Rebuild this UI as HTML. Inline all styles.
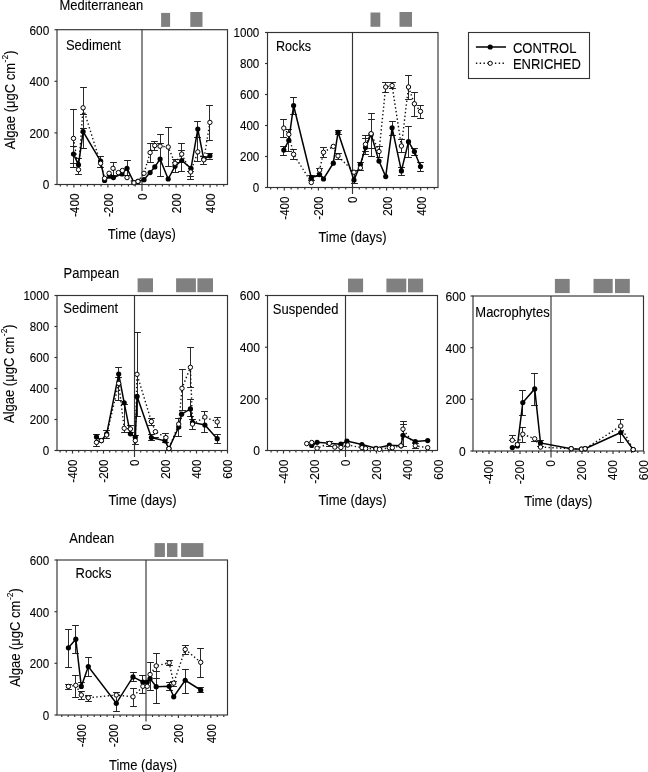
<!DOCTYPE html>
<html><head><meta charset="utf-8"><style>
html,body{margin:0;padding:0;background:#fff;}
svg{display:block;will-change:transform;font-family:"Liberation Sans",sans-serif;}
text{fill:#000;stroke:#000;stroke-width:0.1;}
</style></head><body>
<svg width="648" height="772" viewBox="0 0 648 772">
<rect x="57.0" y="29.7" width="170.5" height="154.8" fill="none" stroke="#333" stroke-width="1.15"/>
<line x1="142.0" y1="29.7" x2="142.0" y2="191.0" stroke="#333" stroke-width="1.15" />
<line x1="54.5" y1="184.5" x2="57.0" y2="184.5" stroke="#333" stroke-width="1.15" />
<text transform="translate(49.20 189.40) scale(1 1.1)" font-size="11.8" text-anchor="end" >0</text>
<line x1="54.5" y1="132.9" x2="57.0" y2="132.9" stroke="#333" stroke-width="1.15" />
<text transform="translate(49.20 137.80) scale(1 1.1)" font-size="11.8" text-anchor="end" >200</text>
<line x1="54.5" y1="81.3" x2="57.0" y2="81.3" stroke="#333" stroke-width="1.15" />
<text transform="translate(49.20 86.20) scale(1 1.1)" font-size="11.8" text-anchor="end" >400</text>
<line x1="54.5" y1="29.7" x2="57.0" y2="29.7" stroke="#333" stroke-width="1.15" />
<text transform="translate(49.20 34.60) scale(1 1.1)" font-size="11.8" text-anchor="end" >600</text>
<line x1="60.3" y1="184.5" x2="60.3" y2="186.5" stroke="#333" stroke-width="1.15" />
<line x1="67.1" y1="184.5" x2="67.1" y2="186.5" stroke="#333" stroke-width="1.15" />
<line x1="73.9" y1="184.5" x2="73.9" y2="187.5" stroke="#333" stroke-width="1.15" />
<line x1="80.7" y1="184.5" x2="80.7" y2="186.5" stroke="#333" stroke-width="1.15" />
<line x1="87.5" y1="184.5" x2="87.5" y2="186.5" stroke="#333" stroke-width="1.15" />
<line x1="94.3" y1="184.5" x2="94.3" y2="186.5" stroke="#333" stroke-width="1.15" />
<line x1="101.1" y1="184.5" x2="101.1" y2="186.5" stroke="#333" stroke-width="1.15" />
<line x1="107.9" y1="184.5" x2="107.9" y2="187.5" stroke="#333" stroke-width="1.15" />
<line x1="114.8" y1="184.5" x2="114.8" y2="186.5" stroke="#333" stroke-width="1.15" />
<line x1="121.6" y1="184.5" x2="121.6" y2="186.5" stroke="#333" stroke-width="1.15" />
<line x1="128.4" y1="184.5" x2="128.4" y2="186.5" stroke="#333" stroke-width="1.15" />
<line x1="135.2" y1="184.5" x2="135.2" y2="186.5" stroke="#333" stroke-width="1.15" />
<line x1="148.8" y1="184.5" x2="148.8" y2="186.5" stroke="#333" stroke-width="1.15" />
<line x1="155.6" y1="184.5" x2="155.6" y2="186.5" stroke="#333" stroke-width="1.15" />
<line x1="162.4" y1="184.5" x2="162.4" y2="186.5" stroke="#333" stroke-width="1.15" />
<line x1="169.2" y1="184.5" x2="169.2" y2="186.5" stroke="#333" stroke-width="1.15" />
<line x1="176.1" y1="184.5" x2="176.1" y2="187.5" stroke="#333" stroke-width="1.15" />
<line x1="182.9" y1="184.5" x2="182.9" y2="186.5" stroke="#333" stroke-width="1.15" />
<line x1="189.7" y1="184.5" x2="189.7" y2="186.5" stroke="#333" stroke-width="1.15" />
<line x1="196.5" y1="184.5" x2="196.5" y2="186.5" stroke="#333" stroke-width="1.15" />
<line x1="203.3" y1="184.5" x2="203.3" y2="186.5" stroke="#333" stroke-width="1.15" />
<line x1="210.1" y1="184.5" x2="210.1" y2="187.5" stroke="#333" stroke-width="1.15" />
<line x1="216.9" y1="184.5" x2="216.9" y2="186.5" stroke="#333" stroke-width="1.15" />
<line x1="223.7" y1="184.5" x2="223.7" y2="186.5" stroke="#333" stroke-width="1.15" />
<text transform="translate(78.78 193.50) rotate(-90) scale(1 1.1)" font-size="11.8" text-anchor="end" >-400</text>
<text transform="translate(112.84 193.50) rotate(-90) scale(1 1.1)" font-size="11.8" text-anchor="end" >-200</text>
<text transform="translate(146.90 193.50) rotate(-90) scale(1 1.1)" font-size="11.8" text-anchor="end" >0</text>
<text transform="translate(180.96 193.50) rotate(-90) scale(1 1.1)" font-size="11.8" text-anchor="end" >200</text>
<text transform="translate(215.02 193.50) rotate(-90) scale(1 1.1)" font-size="11.8" text-anchor="end" >400</text>
<text transform="translate(107.80 238.70) scale(1 1.12)" font-size="13" text-anchor="start" >Time (days)</text>
<text transform="translate(65.90 50.40) scale(1 1.12)" font-size="13" text-anchor="start" >Sediment</text>
<text transform="translate(59.40 9.60) scale(1 1.12)" font-size="13" text-anchor="start" >Mediterranean</text>
<text transform="translate(14.8 149.2) rotate(-90) scale(1 1.12)" font-size="13">Algae (μgC cm<tspan font-size="8.5" dx="0.6" dy="-6.3">-2</tspan><tspan dy="6.3">)</tspan></text>
<rect x="161.1" y="12.9" width="9.0" height="14.0" fill="#808080"/>
<rect x="190.3" y="12.0" width="12.2" height="14.9" fill="#808080"/>
<line x1="73.5" y1="109.5" x2="73.5" y2="167.5" stroke="#2a2a2a" stroke-width="1" />
<line x1="70.1" y1="109.5" x2="76.9" y2="109.5" stroke="#222" stroke-width="1" />
<line x1="70.1" y1="167.5" x2="76.9" y2="167.5" stroke="#222" stroke-width="1" />
<line x1="78.5" y1="158.5" x2="78.5" y2="174.5" stroke="#2a2a2a" stroke-width="1" />
<line x1="75.1" y1="158.5" x2="81.9" y2="158.5" stroke="#222" stroke-width="1" />
<line x1="75.1" y1="174.5" x2="81.9" y2="174.5" stroke="#222" stroke-width="1" />
<line x1="83.5" y1="87.5" x2="83.5" y2="148.5" stroke="#2a2a2a" stroke-width="1" />
<line x1="80.1" y1="87.5" x2="86.9" y2="87.5" stroke="#222" stroke-width="1" />
<line x1="80.1" y1="148.5" x2="86.9" y2="148.5" stroke="#222" stroke-width="1" />
<line x1="100.5" y1="156.5" x2="100.5" y2="167.5" stroke="#2a2a2a" stroke-width="1" />
<line x1="97.1" y1="156.5" x2="103.9" y2="156.5" stroke="#222" stroke-width="1" />
<line x1="97.1" y1="167.5" x2="103.9" y2="167.5" stroke="#222" stroke-width="1" />
<line x1="113.5" y1="162.5" x2="113.5" y2="175.5" stroke="#2a2a2a" stroke-width="1" />
<line x1="110.1" y1="162.5" x2="116.9" y2="162.5" stroke="#222" stroke-width="1" />
<line x1="110.1" y1="175.5" x2="116.9" y2="175.5" stroke="#222" stroke-width="1" />
<line x1="127.5" y1="160.5" x2="127.5" y2="175.5" stroke="#2a2a2a" stroke-width="1" />
<line x1="124.1" y1="160.5" x2="130.9" y2="160.5" stroke="#222" stroke-width="1" />
<line x1="124.1" y1="175.5" x2="130.9" y2="175.5" stroke="#222" stroke-width="1" />
<line x1="150.5" y1="143.5" x2="150.5" y2="162.5" stroke="#2a2a2a" stroke-width="1" />
<line x1="147.1" y1="143.5" x2="153.9" y2="143.5" stroke="#222" stroke-width="1" />
<line x1="147.1" y1="162.5" x2="153.9" y2="162.5" stroke="#222" stroke-width="1" />
<line x1="154.5" y1="141.5" x2="154.5" y2="150.5" stroke="#2a2a2a" stroke-width="1" />
<line x1="151.1" y1="141.5" x2="157.9" y2="141.5" stroke="#222" stroke-width="1" />
<line x1="151.1" y1="150.5" x2="157.9" y2="150.5" stroke="#222" stroke-width="1" />
<line x1="160.5" y1="134.5" x2="160.5" y2="176.5" stroke="#2a2a2a" stroke-width="1" />
<line x1="157.1" y1="134.5" x2="163.9" y2="134.5" stroke="#222" stroke-width="1" />
<line x1="157.1" y1="176.5" x2="163.9" y2="176.5" stroke="#222" stroke-width="1" />
<line x1="168.5" y1="127.5" x2="168.5" y2="166.5" stroke="#2a2a2a" stroke-width="1" />
<line x1="165.1" y1="127.5" x2="171.9" y2="127.5" stroke="#222" stroke-width="1" />
<line x1="165.1" y1="166.5" x2="171.9" y2="166.5" stroke="#222" stroke-width="1" />
<line x1="175.5" y1="159.5" x2="175.5" y2="172.5" stroke="#2a2a2a" stroke-width="1" />
<line x1="172.1" y1="159.5" x2="178.9" y2="159.5" stroke="#222" stroke-width="1" />
<line x1="172.1" y1="172.5" x2="178.9" y2="172.5" stroke="#222" stroke-width="1" />
<line x1="181.5" y1="143.5" x2="181.5" y2="171.5" stroke="#2a2a2a" stroke-width="1" />
<line x1="178.1" y1="143.5" x2="184.9" y2="143.5" stroke="#222" stroke-width="1" />
<line x1="178.1" y1="171.5" x2="184.9" y2="171.5" stroke="#222" stroke-width="1" />
<line x1="190.5" y1="171.5" x2="190.5" y2="179.5" stroke="#2a2a2a" stroke-width="1" />
<line x1="187.1" y1="171.5" x2="193.9" y2="171.5" stroke="#222" stroke-width="1" />
<line x1="187.1" y1="179.5" x2="193.9" y2="179.5" stroke="#222" stroke-width="1" />
<line x1="197.5" y1="121.5" x2="197.5" y2="161.5" stroke="#2a2a2a" stroke-width="1" />
<line x1="194.1" y1="121.5" x2="200.9" y2="121.5" stroke="#222" stroke-width="1" />
<line x1="194.1" y1="161.5" x2="200.9" y2="161.5" stroke="#222" stroke-width="1" />
<line x1="203.5" y1="156.5" x2="203.5" y2="164.5" stroke="#2a2a2a" stroke-width="1" />
<line x1="200.1" y1="156.5" x2="206.9" y2="156.5" stroke="#222" stroke-width="1" />
<line x1="200.1" y1="164.5" x2="206.9" y2="164.5" stroke="#222" stroke-width="1" />
<line x1="209.5" y1="105.5" x2="209.5" y2="140.5" stroke="#2a2a2a" stroke-width="1" />
<line x1="206.1" y1="105.5" x2="212.9" y2="105.5" stroke="#222" stroke-width="1" />
<line x1="206.1" y1="140.5" x2="212.9" y2="140.5" stroke="#222" stroke-width="1" />
<line x1="70.1" y1="146.5" x2="76.9" y2="146.5" stroke="#222" stroke-width="1" />
<line x1="70.1" y1="163.5" x2="76.9" y2="163.5" stroke="#222" stroke-width="1" />
<line x1="80.1" y1="114.5" x2="86.9" y2="114.5" stroke="#222" stroke-width="1" />
<line x1="80.1" y1="128.5" x2="86.9" y2="128.5" stroke="#222" stroke-width="1" />
<line x1="157.1" y1="143.5" x2="163.9" y2="143.5" stroke="#222" stroke-width="1" />
<line x1="172.1" y1="162.5" x2="178.9" y2="162.5" stroke="#222" stroke-width="1" />
<line x1="178.1" y1="150.5" x2="184.9" y2="150.5" stroke="#222" stroke-width="1" />
<line x1="187.1" y1="176.5" x2="193.9" y2="176.5" stroke="#222" stroke-width="1" />
<line x1="194.1" y1="137.5" x2="200.9" y2="137.5" stroke="#222" stroke-width="1" />
<line x1="206.1" y1="153.5" x2="212.9" y2="153.5" stroke="#222" stroke-width="1" />
<line x1="206.1" y1="159.5" x2="212.9" y2="159.5" stroke="#222" stroke-width="1" />
<polyline fill="none" stroke="#111" stroke-width="1.4" stroke-dasharray="1.4 2.4" points="73.5,138.4 78.5,169.7 83.1,107.8 100.6,163.3 104.6,178.3 109.1,173.3 113.0,168.3 118.4,172.6 122.4,170.5 127.0,177.6 134.0,182.8 138.0,181.4 144.0,173.3 150.1,152.6 154.8,145.5 160.1,146.2 168.2,147.0 175.0,163.3 181.7,154.1 190.7,171.9 197.8,151.9 203.8,159.8 209.9,122.4"/>
<polyline fill="none" stroke="#000" stroke-width="1.5" points="73.5,154.1 78.5,164.8 83.1,131.6 100.6,161.2 104.6,180.4 109.9,176.2 113.4,177.6 122.0,174.0 127.0,168.3 134.0,182.6 138.0,181.4 144.0,179.7 150.1,172.6 154.8,166.9 160.1,159.1 168.2,179.0 175.0,166.2 181.7,160.5 191.0,168.3 197.8,129.1 203.8,159.1 209.9,155.8"/>
<circle cx="73.5" cy="154.1" r="2.6" fill="#000"/>
<circle cx="78.5" cy="164.8" r="2.6" fill="#000"/>
<circle cx="83.1" cy="131.6" r="2.6" fill="#000"/>
<circle cx="100.6" cy="161.2" r="2.6" fill="#000"/>
<circle cx="104.6" cy="180.4" r="2.6" fill="#000"/>
<circle cx="109.9" cy="176.2" r="2.6" fill="#000"/>
<circle cx="113.4" cy="177.6" r="2.6" fill="#000"/>
<circle cx="122.0" cy="174.0" r="2.6" fill="#000"/>
<circle cx="127.0" cy="168.3" r="2.6" fill="#000"/>
<circle cx="134.0" cy="182.6" r="2.6" fill="#000"/>
<circle cx="138.0" cy="181.4" r="2.6" fill="#000"/>
<circle cx="144.0" cy="179.7" r="2.6" fill="#000"/>
<circle cx="150.1" cy="172.6" r="2.6" fill="#000"/>
<circle cx="154.8" cy="166.9" r="2.6" fill="#000"/>
<circle cx="160.1" cy="159.1" r="2.6" fill="#000"/>
<circle cx="168.2" cy="179.0" r="2.6" fill="#000"/>
<circle cx="175.0" cy="166.2" r="2.6" fill="#000"/>
<circle cx="181.7" cy="160.5" r="2.6" fill="#000"/>
<circle cx="191.0" cy="168.3" r="2.6" fill="#000"/>
<circle cx="197.8" cy="129.1" r="2.6" fill="#000"/>
<circle cx="203.8" cy="159.1" r="2.6" fill="#000"/>
<circle cx="209.9" cy="155.8" r="2.6" fill="#000"/>
<circle cx="73.5" cy="138.4" r="2.2" fill="#fff" stroke="#000" stroke-width="1"/>
<circle cx="78.5" cy="169.7" r="2.2" fill="#fff" stroke="#000" stroke-width="1"/>
<circle cx="83.1" cy="107.8" r="2.2" fill="#fff" stroke="#000" stroke-width="1"/>
<circle cx="100.6" cy="163.3" r="2.2" fill="#fff" stroke="#000" stroke-width="1"/>
<circle cx="104.6" cy="178.3" r="2.2" fill="#fff" stroke="#000" stroke-width="1"/>
<circle cx="109.1" cy="173.3" r="2.2" fill="#fff" stroke="#000" stroke-width="1"/>
<circle cx="113.0" cy="168.3" r="2.2" fill="#fff" stroke="#000" stroke-width="1"/>
<circle cx="118.4" cy="172.6" r="2.2" fill="#fff" stroke="#000" stroke-width="1"/>
<circle cx="122.4" cy="170.5" r="2.2" fill="#fff" stroke="#000" stroke-width="1"/>
<circle cx="127.0" cy="177.6" r="2.2" fill="#fff" stroke="#000" stroke-width="1"/>
<circle cx="134.0" cy="182.8" r="2.2" fill="#fff" stroke="#000" stroke-width="1"/>
<circle cx="138.0" cy="181.4" r="2.2" fill="#fff" stroke="#000" stroke-width="1"/>
<circle cx="144.0" cy="173.3" r="2.2" fill="#fff" stroke="#000" stroke-width="1"/>
<circle cx="150.1" cy="152.6" r="2.2" fill="#fff" stroke="#000" stroke-width="1"/>
<circle cx="154.8" cy="145.5" r="2.2" fill="#fff" stroke="#000" stroke-width="1"/>
<circle cx="160.1" cy="146.2" r="2.2" fill="#fff" stroke="#000" stroke-width="1"/>
<circle cx="168.2" cy="147.0" r="2.2" fill="#fff" stroke="#000" stroke-width="1"/>
<circle cx="175.0" cy="163.3" r="2.2" fill="#fff" stroke="#000" stroke-width="1"/>
<circle cx="181.7" cy="154.1" r="2.2" fill="#fff" stroke="#000" stroke-width="1"/>
<circle cx="190.7" cy="171.9" r="2.2" fill="#fff" stroke="#000" stroke-width="1"/>
<circle cx="197.8" cy="151.9" r="2.2" fill="#fff" stroke="#000" stroke-width="1"/>
<circle cx="203.8" cy="159.8" r="2.2" fill="#fff" stroke="#000" stroke-width="1"/>
<circle cx="209.9" cy="122.4" r="2.2" fill="#fff" stroke="#000" stroke-width="1"/>
<rect x="267.5" y="32.5" width="170.5" height="155.0" fill="none" stroke="#333" stroke-width="1.15"/>
<line x1="352.5" y1="32.5" x2="352.5" y2="194.0" stroke="#333" stroke-width="1.15" />
<line x1="265.0" y1="187.5" x2="267.5" y2="187.5" stroke="#333" stroke-width="1.15" />
<text transform="translate(259.30 192.40) scale(1 1.1)" font-size="11.6" text-anchor="end" >0</text>
<line x1="265.0" y1="156.5" x2="267.5" y2="156.5" stroke="#333" stroke-width="1.15" />
<text transform="translate(259.30 161.40) scale(1 1.1)" font-size="11.6" text-anchor="end" >200</text>
<line x1="265.0" y1="125.5" x2="267.5" y2="125.5" stroke="#333" stroke-width="1.15" />
<text transform="translate(259.30 130.40) scale(1 1.1)" font-size="11.6" text-anchor="end" >400</text>
<line x1="265.0" y1="94.5" x2="267.5" y2="94.5" stroke="#333" stroke-width="1.15" />
<text transform="translate(259.30 99.40) scale(1 1.1)" font-size="11.6" text-anchor="end" >600</text>
<line x1="265.0" y1="63.5" x2="267.5" y2="63.5" stroke="#333" stroke-width="1.15" />
<text transform="translate(259.30 68.40) scale(1 1.1)" font-size="11.6" text-anchor="end" >800</text>
<line x1="265.0" y1="32.5" x2="267.5" y2="32.5" stroke="#333" stroke-width="1.15" />
<text transform="translate(259.30 37.40) scale(1 1.1)" font-size="11.6" text-anchor="end" >1000</text>
<line x1="270.7" y1="187.5" x2="270.7" y2="189.5" stroke="#333" stroke-width="1.15" />
<line x1="277.5" y1="187.5" x2="277.5" y2="189.5" stroke="#333" stroke-width="1.15" />
<line x1="284.3" y1="187.5" x2="284.3" y2="190.5" stroke="#333" stroke-width="1.15" />
<line x1="291.1" y1="187.5" x2="291.1" y2="189.5" stroke="#333" stroke-width="1.15" />
<line x1="297.9" y1="187.5" x2="297.9" y2="189.5" stroke="#333" stroke-width="1.15" />
<line x1="304.8" y1="187.5" x2="304.8" y2="189.5" stroke="#333" stroke-width="1.15" />
<line x1="311.6" y1="187.5" x2="311.6" y2="189.5" stroke="#333" stroke-width="1.15" />
<line x1="318.4" y1="187.5" x2="318.4" y2="190.5" stroke="#333" stroke-width="1.15" />
<line x1="325.2" y1="187.5" x2="325.2" y2="189.5" stroke="#333" stroke-width="1.15" />
<line x1="332.0" y1="187.5" x2="332.0" y2="189.5" stroke="#333" stroke-width="1.15" />
<line x1="338.9" y1="187.5" x2="338.9" y2="189.5" stroke="#333" stroke-width="1.15" />
<line x1="345.7" y1="187.5" x2="345.7" y2="189.5" stroke="#333" stroke-width="1.15" />
<line x1="359.3" y1="187.5" x2="359.3" y2="189.5" stroke="#333" stroke-width="1.15" />
<line x1="366.1" y1="187.5" x2="366.1" y2="189.5" stroke="#333" stroke-width="1.15" />
<line x1="373.0" y1="187.5" x2="373.0" y2="189.5" stroke="#333" stroke-width="1.15" />
<line x1="379.8" y1="187.5" x2="379.8" y2="189.5" stroke="#333" stroke-width="1.15" />
<line x1="386.6" y1="187.5" x2="386.6" y2="190.5" stroke="#333" stroke-width="1.15" />
<line x1="393.4" y1="187.5" x2="393.4" y2="189.5" stroke="#333" stroke-width="1.15" />
<line x1="400.2" y1="187.5" x2="400.2" y2="189.5" stroke="#333" stroke-width="1.15" />
<line x1="407.1" y1="187.5" x2="407.1" y2="189.5" stroke="#333" stroke-width="1.15" />
<line x1="413.9" y1="187.5" x2="413.9" y2="189.5" stroke="#333" stroke-width="1.15" />
<line x1="420.7" y1="187.5" x2="420.7" y2="190.5" stroke="#333" stroke-width="1.15" />
<line x1="427.5" y1="187.5" x2="427.5" y2="189.5" stroke="#333" stroke-width="1.15" />
<line x1="434.3" y1="187.5" x2="434.3" y2="189.5" stroke="#333" stroke-width="1.15" />
<text transform="translate(289.20 196.50) rotate(-90) scale(1 1.1)" font-size="11.6" text-anchor="end" >-400</text>
<text transform="translate(323.30 196.50) rotate(-90) scale(1 1.1)" font-size="11.6" text-anchor="end" >-200</text>
<text transform="translate(357.40 196.50) rotate(-90) scale(1 1.1)" font-size="11.6" text-anchor="end" >0</text>
<text transform="translate(391.50 196.50) rotate(-90) scale(1 1.1)" font-size="11.6" text-anchor="end" >200</text>
<text transform="translate(425.60 196.50) rotate(-90) scale(1 1.1)" font-size="11.6" text-anchor="end" >400</text>
<text transform="translate(318.40 241.70) scale(1 1.12)" font-size="13" text-anchor="start" >Time (days)</text>
<text transform="translate(276.00 50.90) scale(1 1.12)" font-size="12.6" text-anchor="start" >Rocks</text>
<rect x="370.5" y="12.5" width="9.8" height="14.3" fill="#808080"/>
<rect x="399.5" y="12.0" width="12.5" height="14.8" fill="#808080"/>
<line x1="283.5" y1="119.5" x2="283.5" y2="137.5" stroke="#2a2a2a" stroke-width="1" />
<line x1="280.1" y1="119.5" x2="286.9" y2="119.5" stroke="#222" stroke-width="1" />
<line x1="280.1" y1="137.5" x2="286.9" y2="137.5" stroke="#222" stroke-width="1" />
<line x1="283.5" y1="146.5" x2="283.5" y2="155.5" stroke="#2a2a2a" stroke-width="1" />
<line x1="280.1" y1="146.5" x2="286.9" y2="146.5" stroke="#222" stroke-width="1" />
<line x1="280.1" y1="155.5" x2="286.9" y2="155.5" stroke="#222" stroke-width="1" />
<line x1="288.5" y1="129.5" x2="288.5" y2="151.5" stroke="#2a2a2a" stroke-width="1" />
<line x1="285.1" y1="129.5" x2="291.9" y2="129.5" stroke="#222" stroke-width="1" />
<line x1="285.1" y1="151.5" x2="291.9" y2="151.5" stroke="#222" stroke-width="1" />
<line x1="293.5" y1="97.5" x2="293.5" y2="114.5" stroke="#2a2a2a" stroke-width="1" />
<line x1="290.1" y1="97.5" x2="296.9" y2="97.5" stroke="#222" stroke-width="1" />
<line x1="290.1" y1="114.5" x2="296.9" y2="114.5" stroke="#222" stroke-width="1" />
<line x1="293.5" y1="149.5" x2="293.5" y2="159.5" stroke="#2a2a2a" stroke-width="1" />
<line x1="290.1" y1="149.5" x2="296.9" y2="149.5" stroke="#222" stroke-width="1" />
<line x1="290.1" y1="159.5" x2="296.9" y2="159.5" stroke="#222" stroke-width="1" />
<line x1="311.5" y1="175.5" x2="311.5" y2="180.5" stroke="#2a2a2a" stroke-width="1" />
<line x1="308.1" y1="175.5" x2="314.9" y2="175.5" stroke="#222" stroke-width="1" />
<line x1="308.1" y1="180.5" x2="314.9" y2="180.5" stroke="#222" stroke-width="1" />
<line x1="319.5" y1="168.5" x2="319.5" y2="176.5" stroke="#2a2a2a" stroke-width="1" />
<line x1="316.1" y1="168.5" x2="322.9" y2="168.5" stroke="#222" stroke-width="1" />
<line x1="316.1" y1="176.5" x2="322.9" y2="176.5" stroke="#222" stroke-width="1" />
<line x1="323.5" y1="147.5" x2="323.5" y2="157.5" stroke="#2a2a2a" stroke-width="1" />
<line x1="320.1" y1="147.5" x2="326.9" y2="147.5" stroke="#222" stroke-width="1" />
<line x1="320.1" y1="157.5" x2="326.9" y2="157.5" stroke="#222" stroke-width="1" />
<line x1="338.5" y1="130.5" x2="338.5" y2="134.5" stroke="#2a2a2a" stroke-width="1" />
<line x1="335.1" y1="130.5" x2="341.9" y2="130.5" stroke="#222" stroke-width="1" />
<line x1="335.1" y1="134.5" x2="341.9" y2="134.5" stroke="#222" stroke-width="1" />
<line x1="338.5" y1="153.5" x2="338.5" y2="159.5" stroke="#2a2a2a" stroke-width="1" />
<line x1="335.1" y1="153.5" x2="341.9" y2="153.5" stroke="#222" stroke-width="1" />
<line x1="335.1" y1="159.5" x2="341.9" y2="159.5" stroke="#222" stroke-width="1" />
<line x1="354.5" y1="170.5" x2="354.5" y2="183.5" stroke="#2a2a2a" stroke-width="1" />
<line x1="351.1" y1="170.5" x2="357.9" y2="170.5" stroke="#222" stroke-width="1" />
<line x1="351.1" y1="183.5" x2="357.9" y2="183.5" stroke="#222" stroke-width="1" />
<line x1="360.5" y1="162.5" x2="360.5" y2="170.5" stroke="#2a2a2a" stroke-width="1" />
<line x1="357.1" y1="162.5" x2="363.9" y2="162.5" stroke="#222" stroke-width="1" />
<line x1="357.1" y1="170.5" x2="363.9" y2="170.5" stroke="#222" stroke-width="1" />
<line x1="365.5" y1="135.5" x2="365.5" y2="154.5" stroke="#2a2a2a" stroke-width="1" />
<line x1="362.1" y1="135.5" x2="368.9" y2="135.5" stroke="#222" stroke-width="1" />
<line x1="362.1" y1="154.5" x2="368.9" y2="154.5" stroke="#222" stroke-width="1" />
<line x1="371.5" y1="113.5" x2="371.5" y2="156.5" stroke="#2a2a2a" stroke-width="1" />
<line x1="368.1" y1="113.5" x2="374.9" y2="113.5" stroke="#222" stroke-width="1" />
<line x1="368.1" y1="156.5" x2="374.9" y2="156.5" stroke="#222" stroke-width="1" />
<line x1="379.5" y1="146.5" x2="379.5" y2="157.5" stroke="#2a2a2a" stroke-width="1" />
<line x1="376.1" y1="146.5" x2="382.9" y2="146.5" stroke="#222" stroke-width="1" />
<line x1="376.1" y1="157.5" x2="382.9" y2="157.5" stroke="#222" stroke-width="1" />
<line x1="385.5" y1="82.5" x2="385.5" y2="92.5" stroke="#2a2a2a" stroke-width="1" />
<line x1="382.1" y1="82.5" x2="388.9" y2="82.5" stroke="#222" stroke-width="1" />
<line x1="382.1" y1="92.5" x2="388.9" y2="92.5" stroke="#222" stroke-width="1" />
<line x1="392.5" y1="82.5" x2="392.5" y2="88.5" stroke="#2a2a2a" stroke-width="1" />
<line x1="389.1" y1="82.5" x2="395.9" y2="82.5" stroke="#222" stroke-width="1" />
<line x1="389.1" y1="88.5" x2="395.9" y2="88.5" stroke="#222" stroke-width="1" />
<line x1="392.5" y1="121.5" x2="392.5" y2="135.5" stroke="#2a2a2a" stroke-width="1" />
<line x1="389.1" y1="121.5" x2="395.9" y2="121.5" stroke="#222" stroke-width="1" />
<line x1="389.1" y1="135.5" x2="395.9" y2="135.5" stroke="#222" stroke-width="1" />
<line x1="401.5" y1="167.5" x2="401.5" y2="175.5" stroke="#2a2a2a" stroke-width="1" />
<line x1="398.1" y1="167.5" x2="404.9" y2="167.5" stroke="#222" stroke-width="1" />
<line x1="398.1" y1="175.5" x2="404.9" y2="175.5" stroke="#222" stroke-width="1" />
<line x1="401.5" y1="139.5" x2="401.5" y2="152.5" stroke="#2a2a2a" stroke-width="1" />
<line x1="398.1" y1="139.5" x2="404.9" y2="139.5" stroke="#222" stroke-width="1" />
<line x1="398.1" y1="152.5" x2="404.9" y2="152.5" stroke="#222" stroke-width="1" />
<line x1="408.5" y1="75.5" x2="408.5" y2="99.5" stroke="#2a2a2a" stroke-width="1" />
<line x1="405.1" y1="75.5" x2="411.9" y2="75.5" stroke="#222" stroke-width="1" />
<line x1="405.1" y1="99.5" x2="411.9" y2="99.5" stroke="#222" stroke-width="1" />
<line x1="408.5" y1="126.5" x2="408.5" y2="157.5" stroke="#2a2a2a" stroke-width="1" />
<line x1="405.1" y1="126.5" x2="411.9" y2="126.5" stroke="#222" stroke-width="1" />
<line x1="405.1" y1="157.5" x2="411.9" y2="157.5" stroke="#222" stroke-width="1" />
<line x1="414.5" y1="92.5" x2="414.5" y2="116.5" stroke="#2a2a2a" stroke-width="1" />
<line x1="411.1" y1="92.5" x2="417.9" y2="92.5" stroke="#222" stroke-width="1" />
<line x1="411.1" y1="116.5" x2="417.9" y2="116.5" stroke="#222" stroke-width="1" />
<line x1="414.5" y1="148.5" x2="414.5" y2="155.5" stroke="#2a2a2a" stroke-width="1" />
<line x1="411.1" y1="148.5" x2="417.9" y2="148.5" stroke="#222" stroke-width="1" />
<line x1="411.1" y1="155.5" x2="417.9" y2="155.5" stroke="#222" stroke-width="1" />
<line x1="420.5" y1="105.5" x2="420.5" y2="118.5" stroke="#2a2a2a" stroke-width="1" />
<line x1="417.1" y1="105.5" x2="423.9" y2="105.5" stroke="#222" stroke-width="1" />
<line x1="417.1" y1="118.5" x2="423.9" y2="118.5" stroke="#222" stroke-width="1" />
<line x1="420.5" y1="162.5" x2="420.5" y2="171.5" stroke="#2a2a2a" stroke-width="1" />
<line x1="417.1" y1="162.5" x2="423.9" y2="162.5" stroke="#222" stroke-width="1" />
<line x1="417.1" y1="171.5" x2="423.9" y2="171.5" stroke="#222" stroke-width="1" />
<line x1="368.1" y1="119.5" x2="374.9" y2="119.5" stroke="#222" stroke-width="1" />
<line x1="368.1" y1="148.5" x2="374.9" y2="148.5" stroke="#222" stroke-width="1" />
<line x1="362.1" y1="138.5" x2="368.9" y2="138.5" stroke="#222" stroke-width="1" />
<line x1="362.1" y1="151.5" x2="368.9" y2="151.5" stroke="#222" stroke-width="1" />
<polyline fill="none" stroke="#111" stroke-width="1.4" stroke-dasharray="1.4 2.4" points="283.8,128.1 288.8,134.4 293.6,154.3 311.3,182.5 319.6,170.1 323.5,152.3 333.3,146.4 338.0,155.9 354.0,172.2 360.4,167.9 365.5,144.3 371.1,133.7 379.0,151.5 385.7,87.0 392.1,85.6 401.4,146.0 408.5,87.0 414.4,103.8 420.5,111.4"/>
<polyline fill="none" stroke="#000" stroke-width="1.5" points="283.8,150.1 288.8,140.3 293.6,105.5 311.3,177.7 319.6,174.6 323.5,179.0 333.3,163.2 338.0,132.3 354.0,180.0 360.4,164.5 365.5,147.6 371.1,134.2 379.0,161.1 385.7,176.6 392.1,127.8 401.4,170.9 408.5,141.7 414.4,151.5 420.5,166.5"/>
<circle cx="283.8" cy="150.1" r="2.6" fill="#000"/>
<circle cx="288.8" cy="140.3" r="2.6" fill="#000"/>
<circle cx="293.6" cy="105.5" r="2.6" fill="#000"/>
<circle cx="311.3" cy="177.7" r="2.6" fill="#000"/>
<circle cx="319.6" cy="174.6" r="2.6" fill="#000"/>
<circle cx="323.5" cy="179.0" r="2.6" fill="#000"/>
<circle cx="333.3" cy="163.2" r="2.6" fill="#000"/>
<circle cx="338.0" cy="132.3" r="2.6" fill="#000"/>
<circle cx="354.0" cy="180.0" r="2.6" fill="#000"/>
<circle cx="360.4" cy="164.5" r="2.6" fill="#000"/>
<circle cx="365.5" cy="147.6" r="2.6" fill="#000"/>
<circle cx="371.1" cy="134.2" r="2.6" fill="#000"/>
<circle cx="379.0" cy="161.1" r="2.6" fill="#000"/>
<circle cx="385.7" cy="176.6" r="2.6" fill="#000"/>
<circle cx="392.1" cy="127.8" r="2.6" fill="#000"/>
<circle cx="401.4" cy="170.9" r="2.6" fill="#000"/>
<circle cx="408.5" cy="141.7" r="2.6" fill="#000"/>
<circle cx="414.4" cy="151.5" r="2.6" fill="#000"/>
<circle cx="420.5" cy="166.5" r="2.6" fill="#000"/>
<circle cx="283.8" cy="128.1" r="2.2" fill="#fff" stroke="#000" stroke-width="1"/>
<circle cx="288.8" cy="134.4" r="2.2" fill="#fff" stroke="#000" stroke-width="1"/>
<circle cx="293.6" cy="154.3" r="2.2" fill="#fff" stroke="#000" stroke-width="1"/>
<circle cx="311.3" cy="182.5" r="2.2" fill="#fff" stroke="#000" stroke-width="1"/>
<circle cx="319.6" cy="170.1" r="2.2" fill="#fff" stroke="#000" stroke-width="1"/>
<circle cx="323.5" cy="152.3" r="2.2" fill="#fff" stroke="#000" stroke-width="1"/>
<circle cx="333.3" cy="146.4" r="2.2" fill="#fff" stroke="#000" stroke-width="1"/>
<circle cx="338.0" cy="155.9" r="2.2" fill="#fff" stroke="#000" stroke-width="1"/>
<circle cx="354.0" cy="172.2" r="2.2" fill="#fff" stroke="#000" stroke-width="1"/>
<circle cx="360.4" cy="167.9" r="2.2" fill="#fff" stroke="#000" stroke-width="1"/>
<circle cx="365.5" cy="144.3" r="2.2" fill="#fff" stroke="#000" stroke-width="1"/>
<circle cx="371.1" cy="133.7" r="2.2" fill="#fff" stroke="#000" stroke-width="1"/>
<circle cx="379.0" cy="151.5" r="2.2" fill="#fff" stroke="#000" stroke-width="1"/>
<circle cx="385.7" cy="87.0" r="2.2" fill="#fff" stroke="#000" stroke-width="1"/>
<circle cx="392.1" cy="85.6" r="2.2" fill="#fff" stroke="#000" stroke-width="1"/>
<circle cx="401.4" cy="146.0" r="2.2" fill="#fff" stroke="#000" stroke-width="1"/>
<circle cx="408.5" cy="87.0" r="2.2" fill="#fff" stroke="#000" stroke-width="1"/>
<circle cx="414.4" cy="103.8" r="2.2" fill="#fff" stroke="#000" stroke-width="1"/>
<circle cx="420.5" cy="111.4" r="2.2" fill="#fff" stroke="#000" stroke-width="1"/>
<rect x="57.0" y="295.5" width="170.5" height="155.0" fill="none" stroke="#333" stroke-width="1.15"/>
<line x1="134.5" y1="295.5" x2="134.5" y2="457.0" stroke="#333" stroke-width="1.15" />
<line x1="54.5" y1="450.5" x2="57.0" y2="450.5" stroke="#333" stroke-width="1.15" />
<text transform="translate(49.20 455.40) scale(1 1.1)" font-size="11.6" text-anchor="end" >0</text>
<line x1="54.5" y1="419.5" x2="57.0" y2="419.5" stroke="#333" stroke-width="1.15" />
<text transform="translate(49.20 424.40) scale(1 1.1)" font-size="11.6" text-anchor="end" >200</text>
<line x1="54.5" y1="388.5" x2="57.0" y2="388.5" stroke="#333" stroke-width="1.15" />
<text transform="translate(49.20 393.40) scale(1 1.1)" font-size="11.6" text-anchor="end" >400</text>
<line x1="54.5" y1="357.5" x2="57.0" y2="357.5" stroke="#333" stroke-width="1.15" />
<text transform="translate(49.20 362.40) scale(1 1.1)" font-size="11.6" text-anchor="end" >600</text>
<line x1="54.5" y1="326.5" x2="57.0" y2="326.5" stroke="#333" stroke-width="1.15" />
<text transform="translate(49.20 331.40) scale(1 1.1)" font-size="11.6" text-anchor="end" >800</text>
<line x1="54.5" y1="295.5" x2="57.0" y2="295.5" stroke="#333" stroke-width="1.15" />
<text transform="translate(49.20 300.40) scale(1 1.1)" font-size="11.6" text-anchor="end" >1000</text>
<line x1="60.1" y1="450.5" x2="60.1" y2="452.5" stroke="#333" stroke-width="1.15" />
<line x1="66.3" y1="450.5" x2="66.3" y2="452.5" stroke="#333" stroke-width="1.15" />
<line x1="72.5" y1="450.5" x2="72.5" y2="453.5" stroke="#333" stroke-width="1.15" />
<line x1="78.7" y1="450.5" x2="78.7" y2="452.5" stroke="#333" stroke-width="1.15" />
<line x1="84.9" y1="450.5" x2="84.9" y2="452.5" stroke="#333" stroke-width="1.15" />
<line x1="91.1" y1="450.5" x2="91.1" y2="452.5" stroke="#333" stroke-width="1.15" />
<line x1="97.3" y1="450.5" x2="97.3" y2="452.5" stroke="#333" stroke-width="1.15" />
<line x1="103.5" y1="450.5" x2="103.5" y2="453.5" stroke="#333" stroke-width="1.15" />
<line x1="109.7" y1="450.5" x2="109.7" y2="452.5" stroke="#333" stroke-width="1.15" />
<line x1="115.9" y1="450.5" x2="115.9" y2="452.5" stroke="#333" stroke-width="1.15" />
<line x1="122.1" y1="450.5" x2="122.1" y2="452.5" stroke="#333" stroke-width="1.15" />
<line x1="128.3" y1="450.5" x2="128.3" y2="452.5" stroke="#333" stroke-width="1.15" />
<line x1="140.7" y1="450.5" x2="140.7" y2="452.5" stroke="#333" stroke-width="1.15" />
<line x1="146.9" y1="450.5" x2="146.9" y2="452.5" stroke="#333" stroke-width="1.15" />
<line x1="153.1" y1="450.5" x2="153.1" y2="452.5" stroke="#333" stroke-width="1.15" />
<line x1="159.3" y1="450.5" x2="159.3" y2="452.5" stroke="#333" stroke-width="1.15" />
<line x1="165.5" y1="450.5" x2="165.5" y2="453.5" stroke="#333" stroke-width="1.15" />
<line x1="171.7" y1="450.5" x2="171.7" y2="452.5" stroke="#333" stroke-width="1.15" />
<line x1="177.9" y1="450.5" x2="177.9" y2="452.5" stroke="#333" stroke-width="1.15" />
<line x1="184.1" y1="450.5" x2="184.1" y2="452.5" stroke="#333" stroke-width="1.15" />
<line x1="190.3" y1="450.5" x2="190.3" y2="452.5" stroke="#333" stroke-width="1.15" />
<line x1="196.5" y1="450.5" x2="196.5" y2="453.5" stroke="#333" stroke-width="1.15" />
<line x1="202.7" y1="450.5" x2="202.7" y2="452.5" stroke="#333" stroke-width="1.15" />
<line x1="208.9" y1="450.5" x2="208.9" y2="452.5" stroke="#333" stroke-width="1.15" />
<line x1="215.1" y1="450.5" x2="215.1" y2="452.5" stroke="#333" stroke-width="1.15" />
<line x1="221.3" y1="450.5" x2="221.3" y2="452.5" stroke="#333" stroke-width="1.15" />
<line x1="227.5" y1="450.5" x2="227.5" y2="453.5" stroke="#333" stroke-width="1.15" />
<text transform="translate(76.95 459.50) rotate(-90) scale(1 1.1)" font-size="11.6" text-anchor="end" >-400</text>
<text transform="translate(107.95 459.50) rotate(-90) scale(1 1.1)" font-size="11.6" text-anchor="end" >-200</text>
<text transform="translate(138.95 459.50) rotate(-90) scale(1 1.1)" font-size="11.6" text-anchor="end" >0</text>
<text transform="translate(169.95 459.50) rotate(-90) scale(1 1.1)" font-size="11.6" text-anchor="end" >200</text>
<text transform="translate(200.95 459.50) rotate(-90) scale(1 1.1)" font-size="11.6" text-anchor="end" >400</text>
<text transform="translate(231.95 459.50) rotate(-90) scale(1 1.1)" font-size="11.6" text-anchor="end" >600</text>
<text transform="translate(108.40 504.70) scale(1 1.12)" font-size="13" text-anchor="start" >Time (days)</text>
<text transform="translate(63.30 312.90) scale(1 1.12)" font-size="13" text-anchor="start" >Sediment</text>
<text transform="translate(63.50 278.30) scale(1 1.12)" font-size="13" text-anchor="start" >Pampean</text>
<text transform="translate(13.8 423.0) rotate(-90) scale(1 1.12)" font-size="13">Algae (μgC cm<tspan font-size="8.5" dx="0.6" dy="-6.3">-2</tspan><tspan dy="6.3">)</tspan></text>
<rect x="137.6" y="278.3" width="15.4" height="13.9" fill="#808080"/>
<rect x="176.1" y="278.3" width="19.8" height="13.9" fill="#808080"/>
<rect x="197.4" y="278.3" width="15.6" height="13.9" fill="#808080"/>
<line x1="96.5" y1="434.5" x2="96.5" y2="446.5" stroke="#2a2a2a" stroke-width="1" />
<line x1="93.1" y1="434.5" x2="99.9" y2="434.5" stroke="#222" stroke-width="1" />
<line x1="93.1" y1="446.5" x2="99.9" y2="446.5" stroke="#222" stroke-width="1" />
<line x1="106.5" y1="430.5" x2="106.5" y2="438.5" stroke="#2a2a2a" stroke-width="1" />
<line x1="103.1" y1="430.5" x2="109.9" y2="430.5" stroke="#222" stroke-width="1" />
<line x1="103.1" y1="438.5" x2="109.9" y2="438.5" stroke="#222" stroke-width="1" />
<line x1="118.5" y1="367.5" x2="118.5" y2="400.5" stroke="#2a2a2a" stroke-width="1" />
<line x1="115.1" y1="367.5" x2="121.9" y2="367.5" stroke="#222" stroke-width="1" />
<line x1="115.1" y1="400.5" x2="121.9" y2="400.5" stroke="#222" stroke-width="1" />
<line x1="124.5" y1="404.5" x2="124.5" y2="432.5" stroke="#2a2a2a" stroke-width="1" />
<line x1="121.1" y1="404.5" x2="127.9" y2="404.5" stroke="#222" stroke-width="1" />
<line x1="121.1" y1="432.5" x2="127.9" y2="432.5" stroke="#222" stroke-width="1" />
<line x1="130.5" y1="425.5" x2="130.5" y2="432.5" stroke="#2a2a2a" stroke-width="1" />
<line x1="127.1" y1="425.5" x2="133.9" y2="425.5" stroke="#222" stroke-width="1" />
<line x1="127.1" y1="432.5" x2="133.9" y2="432.5" stroke="#222" stroke-width="1" />
<line x1="135.5" y1="435.5" x2="135.5" y2="444.5" stroke="#2a2a2a" stroke-width="1" />
<line x1="132.1" y1="435.5" x2="138.9" y2="435.5" stroke="#222" stroke-width="1" />
<line x1="132.1" y1="444.5" x2="138.9" y2="444.5" stroke="#222" stroke-width="1" />
<line x1="137.5" y1="332.5" x2="137.5" y2="416.5" stroke="#2a2a2a" stroke-width="1" />
<line x1="134.1" y1="332.5" x2="140.9" y2="332.5" stroke="#222" stroke-width="1" />
<line x1="134.1" y1="416.5" x2="140.9" y2="416.5" stroke="#222" stroke-width="1" />
<line x1="151.5" y1="418.5" x2="151.5" y2="425.5" stroke="#2a2a2a" stroke-width="1" />
<line x1="148.1" y1="418.5" x2="154.9" y2="418.5" stroke="#222" stroke-width="1" />
<line x1="148.1" y1="425.5" x2="154.9" y2="425.5" stroke="#222" stroke-width="1" />
<line x1="151.5" y1="434.5" x2="151.5" y2="440.5" stroke="#2a2a2a" stroke-width="1" />
<line x1="148.1" y1="434.5" x2="154.9" y2="434.5" stroke="#222" stroke-width="1" />
<line x1="148.1" y1="440.5" x2="154.9" y2="440.5" stroke="#222" stroke-width="1" />
<line x1="165.5" y1="433.5" x2="165.5" y2="442.5" stroke="#2a2a2a" stroke-width="1" />
<line x1="162.1" y1="433.5" x2="168.9" y2="433.5" stroke="#222" stroke-width="1" />
<line x1="162.1" y1="442.5" x2="168.9" y2="442.5" stroke="#222" stroke-width="1" />
<line x1="178.5" y1="418.5" x2="178.5" y2="436.5" stroke="#2a2a2a" stroke-width="1" />
<line x1="175.1" y1="418.5" x2="181.9" y2="418.5" stroke="#222" stroke-width="1" />
<line x1="175.1" y1="436.5" x2="181.9" y2="436.5" stroke="#222" stroke-width="1" />
<line x1="182.5" y1="369.5" x2="182.5" y2="410.5" stroke="#2a2a2a" stroke-width="1" />
<line x1="179.1" y1="369.5" x2="185.9" y2="369.5" stroke="#222" stroke-width="1" />
<line x1="179.1" y1="410.5" x2="185.9" y2="410.5" stroke="#222" stroke-width="1" />
<line x1="190.5" y1="347.5" x2="190.5" y2="387.5" stroke="#2a2a2a" stroke-width="1" />
<line x1="187.1" y1="347.5" x2="193.9" y2="347.5" stroke="#222" stroke-width="1" />
<line x1="187.1" y1="387.5" x2="193.9" y2="387.5" stroke="#222" stroke-width="1" />
<line x1="190.5" y1="399.5" x2="190.5" y2="416.5" stroke="#2a2a2a" stroke-width="1" />
<line x1="187.1" y1="399.5" x2="193.9" y2="399.5" stroke="#222" stroke-width="1" />
<line x1="187.1" y1="416.5" x2="193.9" y2="416.5" stroke="#222" stroke-width="1" />
<line x1="192.5" y1="419.5" x2="192.5" y2="429.5" stroke="#2a2a2a" stroke-width="1" />
<line x1="189.1" y1="419.5" x2="195.9" y2="419.5" stroke="#222" stroke-width="1" />
<line x1="189.1" y1="429.5" x2="195.9" y2="429.5" stroke="#222" stroke-width="1" />
<line x1="204.5" y1="411.5" x2="204.5" y2="432.5" stroke="#2a2a2a" stroke-width="1" />
<line x1="201.1" y1="411.5" x2="207.9" y2="411.5" stroke="#222" stroke-width="1" />
<line x1="201.1" y1="432.5" x2="207.9" y2="432.5" stroke="#222" stroke-width="1" />
<line x1="217.5" y1="417.5" x2="217.5" y2="427.5" stroke="#2a2a2a" stroke-width="1" />
<line x1="214.1" y1="417.5" x2="220.9" y2="417.5" stroke="#222" stroke-width="1" />
<line x1="214.1" y1="427.5" x2="220.9" y2="427.5" stroke="#222" stroke-width="1" />
<line x1="217.5" y1="434.5" x2="217.5" y2="443.5" stroke="#2a2a2a" stroke-width="1" />
<line x1="214.1" y1="434.5" x2="220.9" y2="434.5" stroke="#222" stroke-width="1" />
<line x1="214.1" y1="443.5" x2="220.9" y2="443.5" stroke="#222" stroke-width="1" />
<line x1="115.1" y1="377.5" x2="121.9" y2="377.5" stroke="#222" stroke-width="1" />
<line x1="152.1" y1="437.5" x2="158.9" y2="437.5" stroke="#222" stroke-width="1" />
<polyline fill="none" stroke="#111" stroke-width="1.4" stroke-dasharray="1.4 2.4" points="96.5,442.4 101.4,440.6 106.7,435.0 118.7,383.4 124.2,428.3 130.4,428.9 135.3,440.6 137.0,374.3 151.4,421.5 155.4,431.7 165.9,437.6 168.9,448.6 178.7,424.1 182.0,388.3 190.4,367.3 192.5,424.1 204.9,417.1 217.2,421.9"/>
<polyline fill="none" stroke="#000" stroke-width="1.5" points="96.5,436.9 101.4,440.6 106.7,433.8 118.7,374.1 124.2,402.8 130.4,433.8 135.3,437.2 137.1,396.4 151.4,437.6 165.0,440.8 168.9,448.6 178.7,427.1 181.6,414.2 190.4,408.9 192.5,422.4 204.9,425.0 217.2,438.7"/>
<circle cx="96.5" cy="436.9" r="2.6" fill="#000"/>
<circle cx="101.4" cy="440.6" r="2.6" fill="#000"/>
<circle cx="106.7" cy="433.8" r="2.6" fill="#000"/>
<circle cx="118.7" cy="374.1" r="2.6" fill="#000"/>
<circle cx="124.2" cy="402.8" r="2.6" fill="#000"/>
<circle cx="130.4" cy="433.8" r="2.6" fill="#000"/>
<circle cx="135.3" cy="437.2" r="2.6" fill="#000"/>
<circle cx="137.1" cy="396.4" r="2.6" fill="#000"/>
<circle cx="151.4" cy="437.6" r="2.6" fill="#000"/>
<circle cx="165.0" cy="440.8" r="2.6" fill="#000"/>
<circle cx="168.9" cy="448.6" r="2.6" fill="#000"/>
<circle cx="178.7" cy="427.1" r="2.6" fill="#000"/>
<circle cx="181.6" cy="414.2" r="2.6" fill="#000"/>
<circle cx="190.4" cy="408.9" r="2.6" fill="#000"/>
<circle cx="192.5" cy="422.4" r="2.6" fill="#000"/>
<circle cx="204.9" cy="425.0" r="2.6" fill="#000"/>
<circle cx="217.2" cy="438.7" r="2.6" fill="#000"/>
<circle cx="96.5" cy="442.4" r="2.2" fill="#fff" stroke="#000" stroke-width="1"/>
<circle cx="101.4" cy="440.6" r="2.2" fill="#fff" stroke="#000" stroke-width="1"/>
<circle cx="106.7" cy="435.0" r="2.2" fill="#fff" stroke="#000" stroke-width="1"/>
<circle cx="118.7" cy="383.4" r="2.2" fill="#fff" stroke="#000" stroke-width="1"/>
<circle cx="124.2" cy="428.3" r="2.2" fill="#fff" stroke="#000" stroke-width="1"/>
<circle cx="130.4" cy="428.9" r="2.2" fill="#fff" stroke="#000" stroke-width="1"/>
<circle cx="135.3" cy="440.6" r="2.2" fill="#fff" stroke="#000" stroke-width="1"/>
<circle cx="137.0" cy="374.3" r="2.2" fill="#fff" stroke="#000" stroke-width="1"/>
<circle cx="151.4" cy="421.5" r="2.2" fill="#fff" stroke="#000" stroke-width="1"/>
<circle cx="155.4" cy="431.7" r="2.2" fill="#fff" stroke="#000" stroke-width="1"/>
<circle cx="165.9" cy="437.6" r="2.2" fill="#fff" stroke="#000" stroke-width="1"/>
<circle cx="168.9" cy="448.6" r="2.2" fill="#fff" stroke="#000" stroke-width="1"/>
<circle cx="178.7" cy="424.1" r="2.2" fill="#fff" stroke="#000" stroke-width="1"/>
<circle cx="182.0" cy="388.3" r="2.2" fill="#fff" stroke="#000" stroke-width="1"/>
<circle cx="190.4" cy="367.3" r="2.2" fill="#fff" stroke="#000" stroke-width="1"/>
<circle cx="192.5" cy="424.1" r="2.2" fill="#fff" stroke="#000" stroke-width="1"/>
<circle cx="204.9" cy="417.1" r="2.2" fill="#fff" stroke="#000" stroke-width="1"/>
<circle cx="217.2" cy="421.9" r="2.2" fill="#fff" stroke="#000" stroke-width="1"/>
<rect x="267.5" y="295.5" width="170.0" height="155.0" fill="none" stroke="#333" stroke-width="1.15"/>
<line x1="345.5" y1="295.5" x2="345.5" y2="457.0" stroke="#333" stroke-width="1.15" />
<line x1="265.0" y1="450.5" x2="267.5" y2="450.5" stroke="#333" stroke-width="1.15" />
<text transform="translate(260.00 455.40) scale(1 1.1)" font-size="12.1" text-anchor="end" >0</text>
<line x1="265.0" y1="398.8" x2="267.5" y2="398.8" stroke="#333" stroke-width="1.15" />
<text transform="translate(260.00 403.73) scale(1 1.1)" font-size="12.1" text-anchor="end" >200</text>
<line x1="265.0" y1="347.2" x2="267.5" y2="347.2" stroke="#333" stroke-width="1.15" />
<text transform="translate(260.00 352.07) scale(1 1.1)" font-size="12.1" text-anchor="end" >400</text>
<line x1="265.0" y1="295.5" x2="267.5" y2="295.5" stroke="#333" stroke-width="1.15" />
<text transform="translate(260.00 300.40) scale(1 1.1)" font-size="12.1" text-anchor="end" >600</text>
<line x1="271.1" y1="450.5" x2="271.1" y2="452.5" stroke="#333" stroke-width="1.15" />
<line x1="277.3" y1="450.5" x2="277.3" y2="452.5" stroke="#333" stroke-width="1.15" />
<line x1="283.5" y1="450.5" x2="283.5" y2="453.5" stroke="#333" stroke-width="1.15" />
<line x1="289.7" y1="450.5" x2="289.7" y2="452.5" stroke="#333" stroke-width="1.15" />
<line x1="295.9" y1="450.5" x2="295.9" y2="452.5" stroke="#333" stroke-width="1.15" />
<line x1="302.1" y1="450.5" x2="302.1" y2="452.5" stroke="#333" stroke-width="1.15" />
<line x1="308.3" y1="450.5" x2="308.3" y2="452.5" stroke="#333" stroke-width="1.15" />
<line x1="314.5" y1="450.5" x2="314.5" y2="453.5" stroke="#333" stroke-width="1.15" />
<line x1="320.7" y1="450.5" x2="320.7" y2="452.5" stroke="#333" stroke-width="1.15" />
<line x1="326.9" y1="450.5" x2="326.9" y2="452.5" stroke="#333" stroke-width="1.15" />
<line x1="333.1" y1="450.5" x2="333.1" y2="452.5" stroke="#333" stroke-width="1.15" />
<line x1="339.3" y1="450.5" x2="339.3" y2="452.5" stroke="#333" stroke-width="1.15" />
<line x1="351.7" y1="450.5" x2="351.7" y2="452.5" stroke="#333" stroke-width="1.15" />
<line x1="357.9" y1="450.5" x2="357.9" y2="452.5" stroke="#333" stroke-width="1.15" />
<line x1="364.1" y1="450.5" x2="364.1" y2="452.5" stroke="#333" stroke-width="1.15" />
<line x1="370.3" y1="450.5" x2="370.3" y2="452.5" stroke="#333" stroke-width="1.15" />
<line x1="376.5" y1="450.5" x2="376.5" y2="453.5" stroke="#333" stroke-width="1.15" />
<line x1="382.7" y1="450.5" x2="382.7" y2="452.5" stroke="#333" stroke-width="1.15" />
<line x1="388.9" y1="450.5" x2="388.9" y2="452.5" stroke="#333" stroke-width="1.15" />
<line x1="395.1" y1="450.5" x2="395.1" y2="452.5" stroke="#333" stroke-width="1.15" />
<line x1="401.3" y1="450.5" x2="401.3" y2="452.5" stroke="#333" stroke-width="1.15" />
<line x1="407.5" y1="450.5" x2="407.5" y2="453.5" stroke="#333" stroke-width="1.15" />
<line x1="413.7" y1="450.5" x2="413.7" y2="452.5" stroke="#333" stroke-width="1.15" />
<line x1="419.9" y1="450.5" x2="419.9" y2="452.5" stroke="#333" stroke-width="1.15" />
<line x1="426.1" y1="450.5" x2="426.1" y2="452.5" stroke="#333" stroke-width="1.15" />
<line x1="432.3" y1="450.5" x2="432.3" y2="452.5" stroke="#333" stroke-width="1.15" />
<text transform="translate(287.75 459.50) rotate(-90) scale(1 1.1)" font-size="12.1" text-anchor="end" >-400</text>
<text transform="translate(318.75 459.50) rotate(-90) scale(1 1.1)" font-size="12.1" text-anchor="end" >-200</text>
<text transform="translate(349.75 459.50) rotate(-90) scale(1 1.1)" font-size="12.1" text-anchor="end" >0</text>
<text transform="translate(380.75 459.50) rotate(-90) scale(1 1.1)" font-size="12.1" text-anchor="end" >200</text>
<text transform="translate(411.75 459.50) rotate(-90) scale(1 1.1)" font-size="12.1" text-anchor="end" >400</text>
<text transform="translate(442.75 459.50) rotate(-90) scale(1 1.1)" font-size="12.1" text-anchor="end" >600</text>
<text transform="translate(318.40 504.70) scale(1 1.12)" font-size="13" text-anchor="start" >Time (days)</text>
<text transform="translate(272.80 314.40) scale(1 1.12)" font-size="13" text-anchor="start" >Suspended</text>
<rect x="348.0" y="278.6" width="15.1" height="13.7" fill="#808080"/>
<rect x="386.4" y="278.6" width="19.9" height="13.7" fill="#808080"/>
<rect x="408.0" y="278.6" width="15.1" height="13.7" fill="#808080"/>
<line x1="403.5" y1="421.5" x2="403.5" y2="446.5" stroke="#2a2a2a" stroke-width="1" />
<line x1="400.1" y1="421.5" x2="406.9" y2="421.5" stroke="#222" stroke-width="1" />
<line x1="400.1" y1="446.5" x2="406.9" y2="446.5" stroke="#222" stroke-width="1" />
<line x1="329.5" y1="441.5" x2="329.5" y2="446.5" stroke="#2a2a2a" stroke-width="1" />
<line x1="326.1" y1="441.5" x2="332.9" y2="441.5" stroke="#222" stroke-width="1" />
<line x1="326.1" y1="446.5" x2="332.9" y2="446.5" stroke="#222" stroke-width="1" />
<line x1="415.5" y1="443.5" x2="415.5" y2="448.5" stroke="#2a2a2a" stroke-width="1" />
<line x1="412.1" y1="443.5" x2="418.9" y2="443.5" stroke="#222" stroke-width="1" />
<line x1="412.1" y1="448.5" x2="418.9" y2="448.5" stroke="#222" stroke-width="1" />
<line x1="400.1" y1="424.5" x2="406.9" y2="424.5" stroke="#222" stroke-width="1" />
<polyline fill="none" stroke="#111" stroke-width="1.4" stroke-dasharray="1.4 2.4" points="306.7,443.6 311.7,442.5 317.1,448.2 329.4,443.4 334.8,447.1 340.9,447.5 347.7,445.0 362.0,447.7 365.6,448.5 376.0,448.9 379.5,449.3 389.4,447.7 392.3,447.7 401.0,445.8 403.0,429.1 415.3,445.8 427.7,447.7"/>
<polyline fill="none" stroke="#000" stroke-width="1.5" points="311.7,445.5 317.1,442.3 340.9,444.2 346.9,441.0 361.9,444.6 376.0,448.3 389.4,445.2 401.0,445.8 403.0,435.3 415.3,441.5 427.7,440.6"/>
<circle cx="311.7" cy="445.5" r="2.6" fill="#000"/>
<circle cx="317.1" cy="442.3" r="2.6" fill="#000"/>
<circle cx="340.9" cy="444.2" r="2.6" fill="#000"/>
<circle cx="346.9" cy="441.0" r="2.6" fill="#000"/>
<circle cx="361.9" cy="444.6" r="2.6" fill="#000"/>
<circle cx="376.0" cy="448.3" r="2.6" fill="#000"/>
<circle cx="389.4" cy="445.2" r="2.6" fill="#000"/>
<circle cx="401.0" cy="445.8" r="2.6" fill="#000"/>
<circle cx="403.0" cy="435.3" r="2.6" fill="#000"/>
<circle cx="415.3" cy="441.5" r="2.6" fill="#000"/>
<circle cx="427.7" cy="440.6" r="2.6" fill="#000"/>
<circle cx="306.7" cy="443.6" r="2.2" fill="#fff" stroke="#000" stroke-width="1"/>
<circle cx="311.7" cy="442.5" r="2.2" fill="#fff" stroke="#000" stroke-width="1"/>
<circle cx="317.1" cy="448.2" r="2.2" fill="#fff" stroke="#000" stroke-width="1"/>
<circle cx="329.4" cy="443.4" r="2.2" fill="#fff" stroke="#000" stroke-width="1"/>
<circle cx="334.8" cy="447.1" r="2.2" fill="#fff" stroke="#000" stroke-width="1"/>
<circle cx="340.9" cy="447.5" r="2.2" fill="#fff" stroke="#000" stroke-width="1"/>
<circle cx="347.7" cy="445.0" r="2.2" fill="#fff" stroke="#000" stroke-width="1"/>
<circle cx="362.0" cy="447.7" r="2.2" fill="#fff" stroke="#000" stroke-width="1"/>
<circle cx="365.6" cy="448.5" r="2.2" fill="#fff" stroke="#000" stroke-width="1"/>
<circle cx="376.0" cy="448.9" r="2.2" fill="#fff" stroke="#000" stroke-width="1"/>
<circle cx="379.5" cy="449.3" r="2.2" fill="#fff" stroke="#000" stroke-width="1"/>
<circle cx="389.4" cy="447.7" r="2.2" fill="#fff" stroke="#000" stroke-width="1"/>
<circle cx="392.3" cy="447.7" r="2.2" fill="#fff" stroke="#000" stroke-width="1"/>
<circle cx="401.0" cy="445.8" r="2.2" fill="#fff" stroke="#000" stroke-width="1"/>
<circle cx="403.0" cy="429.1" r="2.2" fill="#fff" stroke="#000" stroke-width="1"/>
<circle cx="415.3" cy="445.8" r="2.2" fill="#fff" stroke="#000" stroke-width="1"/>
<circle cx="427.7" cy="447.7" r="2.2" fill="#fff" stroke="#000" stroke-width="1"/>
<rect x="473.0" y="296.0" width="170.5" height="155.0" fill="none" stroke="#333" stroke-width="1.15"/>
<line x1="551.0" y1="296.0" x2="551.0" y2="457.5" stroke="#333" stroke-width="1.15" />
<line x1="470.5" y1="451.0" x2="473.0" y2="451.0" stroke="#333" stroke-width="1.15" />
<text transform="translate(465.70 455.90) scale(1 1.1)" font-size="12.1" text-anchor="end" >0</text>
<line x1="470.5" y1="399.3" x2="473.0" y2="399.3" stroke="#333" stroke-width="1.15" />
<text transform="translate(465.70 404.23) scale(1 1.1)" font-size="12.1" text-anchor="end" >200</text>
<line x1="470.5" y1="347.7" x2="473.0" y2="347.7" stroke="#333" stroke-width="1.15" />
<text transform="translate(465.70 352.57) scale(1 1.1)" font-size="12.1" text-anchor="end" >400</text>
<line x1="470.5" y1="296.0" x2="473.0" y2="296.0" stroke="#333" stroke-width="1.15" />
<text transform="translate(465.70 300.90) scale(1 1.1)" font-size="12.1" text-anchor="end" >600</text>
<line x1="476.6" y1="451.0" x2="476.6" y2="453.0" stroke="#333" stroke-width="1.15" />
<line x1="482.8" y1="451.0" x2="482.8" y2="453.0" stroke="#333" stroke-width="1.15" />
<line x1="489.0" y1="451.0" x2="489.0" y2="454.0" stroke="#333" stroke-width="1.15" />
<line x1="495.2" y1="451.0" x2="495.2" y2="453.0" stroke="#333" stroke-width="1.15" />
<line x1="501.4" y1="451.0" x2="501.4" y2="453.0" stroke="#333" stroke-width="1.15" />
<line x1="507.6" y1="451.0" x2="507.6" y2="453.0" stroke="#333" stroke-width="1.15" />
<line x1="513.8" y1="451.0" x2="513.8" y2="453.0" stroke="#333" stroke-width="1.15" />
<line x1="520.0" y1="451.0" x2="520.0" y2="454.0" stroke="#333" stroke-width="1.15" />
<line x1="526.2" y1="451.0" x2="526.2" y2="453.0" stroke="#333" stroke-width="1.15" />
<line x1="532.4" y1="451.0" x2="532.4" y2="453.0" stroke="#333" stroke-width="1.15" />
<line x1="538.6" y1="451.0" x2="538.6" y2="453.0" stroke="#333" stroke-width="1.15" />
<line x1="544.8" y1="451.0" x2="544.8" y2="453.0" stroke="#333" stroke-width="1.15" />
<line x1="557.2" y1="451.0" x2="557.2" y2="453.0" stroke="#333" stroke-width="1.15" />
<line x1="563.4" y1="451.0" x2="563.4" y2="453.0" stroke="#333" stroke-width="1.15" />
<line x1="569.6" y1="451.0" x2="569.6" y2="453.0" stroke="#333" stroke-width="1.15" />
<line x1="575.8" y1="451.0" x2="575.8" y2="453.0" stroke="#333" stroke-width="1.15" />
<line x1="582.0" y1="451.0" x2="582.0" y2="454.0" stroke="#333" stroke-width="1.15" />
<line x1="588.2" y1="451.0" x2="588.2" y2="453.0" stroke="#333" stroke-width="1.15" />
<line x1="594.4" y1="451.0" x2="594.4" y2="453.0" stroke="#333" stroke-width="1.15" />
<line x1="600.6" y1="451.0" x2="600.6" y2="453.0" stroke="#333" stroke-width="1.15" />
<line x1="606.8" y1="451.0" x2="606.8" y2="453.0" stroke="#333" stroke-width="1.15" />
<line x1="613.0" y1="451.0" x2="613.0" y2="454.0" stroke="#333" stroke-width="1.15" />
<line x1="619.2" y1="451.0" x2="619.2" y2="453.0" stroke="#333" stroke-width="1.15" />
<line x1="625.4" y1="451.0" x2="625.4" y2="453.0" stroke="#333" stroke-width="1.15" />
<line x1="631.6" y1="451.0" x2="631.6" y2="453.0" stroke="#333" stroke-width="1.15" />
<line x1="637.8" y1="451.0" x2="637.8" y2="453.0" stroke="#333" stroke-width="1.15" />
<line x1="644.0" y1="451.0" x2="644.0" y2="454.0" stroke="#333" stroke-width="1.15" />
<text transform="translate(493.00 460.00) rotate(-90) scale(1 1.1)" font-size="12.1" text-anchor="end" >-400</text>
<text transform="translate(524.00 460.00) rotate(-90) scale(1 1.1)" font-size="12.1" text-anchor="end" >-200</text>
<text transform="translate(555.00 460.00) rotate(-90) scale(1 1.1)" font-size="12.1" text-anchor="end" >0</text>
<text transform="translate(586.00 460.00) rotate(-90) scale(1 1.1)" font-size="12.1" text-anchor="end" >200</text>
<text transform="translate(617.00 460.00) rotate(-90) scale(1 1.1)" font-size="12.1" text-anchor="end" >400</text>
<text transform="translate(648.00 460.00) rotate(-90) scale(1 1.1)" font-size="12.1" text-anchor="end" >600</text>
<text transform="translate(524.20 506.00) scale(1 1.12)" font-size="13" text-anchor="start" >Time (days)</text>
<text transform="translate(475.30 316.70) scale(1 1.12)" font-size="13" text-anchor="start" >Macrophytes</text>
<rect x="554.9" y="278.9" width="14.8" height="14.2" fill="#808080"/>
<rect x="593.5" y="278.9" width="19.2" height="14.2" fill="#808080"/>
<rect x="615.0" y="278.9" width="14.8" height="14.2" fill="#808080"/>
<line x1="512.5" y1="435.5" x2="512.5" y2="440.5" stroke="#2a2a2a" stroke-width="1" />
<line x1="509.1" y1="435.5" x2="515.9" y2="435.5" stroke="#222" stroke-width="1" />
<line x1="509.1" y1="440.5" x2="515.9" y2="440.5" stroke="#222" stroke-width="1" />
<line x1="522.5" y1="390.5" x2="522.5" y2="415.5" stroke="#2a2a2a" stroke-width="1" />
<line x1="519.1" y1="390.5" x2="525.9" y2="390.5" stroke="#222" stroke-width="1" />
<line x1="519.1" y1="415.5" x2="525.9" y2="415.5" stroke="#222" stroke-width="1" />
<line x1="522.5" y1="427.5" x2="522.5" y2="442.5" stroke="#2a2a2a" stroke-width="1" />
<line x1="519.1" y1="427.5" x2="525.9" y2="427.5" stroke="#222" stroke-width="1" />
<line x1="519.1" y1="442.5" x2="525.9" y2="442.5" stroke="#222" stroke-width="1" />
<line x1="534.5" y1="373.5" x2="534.5" y2="405.5" stroke="#2a2a2a" stroke-width="1" />
<line x1="531.1" y1="373.5" x2="537.9" y2="373.5" stroke="#222" stroke-width="1" />
<line x1="531.1" y1="405.5" x2="537.9" y2="405.5" stroke="#222" stroke-width="1" />
<line x1="540.5" y1="440.5" x2="540.5" y2="446.5" stroke="#2a2a2a" stroke-width="1" />
<line x1="537.1" y1="440.5" x2="543.9" y2="440.5" stroke="#222" stroke-width="1" />
<line x1="537.1" y1="446.5" x2="543.9" y2="446.5" stroke="#222" stroke-width="1" />
<line x1="620.5" y1="419.5" x2="620.5" y2="442.5" stroke="#2a2a2a" stroke-width="1" />
<line x1="617.1" y1="419.5" x2="623.9" y2="419.5" stroke="#222" stroke-width="1" />
<line x1="617.1" y1="442.5" x2="623.9" y2="442.5" stroke="#222" stroke-width="1" />
<line x1="531.1" y1="441.5" x2="537.9" y2="441.5" stroke="#222" stroke-width="1" />
<polyline fill="none" stroke="#111" stroke-width="1.4" stroke-dasharray="1.4 2.4" points="512.3,440.2 517.4,444.6 522.8,434.2 534.7,438.8 540.5,447.1 571.2,448.7 581.5,449.2 585.1,448.7 620.8,426.0 633.2,449.6"/>
<polyline fill="none" stroke="#000" stroke-width="1.5" points="512.3,447.6 517.4,446.0 522.8,402.5 534.7,388.9 540.5,442.9 571.2,448.7 581.5,449.2 585.1,448.7 620.8,432.5 633.2,449.6"/>
<circle cx="512.3" cy="447.6" r="2.6" fill="#000"/>
<circle cx="517.4" cy="446.0" r="2.6" fill="#000"/>
<circle cx="522.8" cy="402.5" r="2.6" fill="#000"/>
<circle cx="534.7" cy="388.9" r="2.6" fill="#000"/>
<circle cx="540.5" cy="442.9" r="2.6" fill="#000"/>
<circle cx="571.2" cy="448.7" r="2.6" fill="#000"/>
<circle cx="581.5" cy="449.2" r="2.6" fill="#000"/>
<circle cx="585.1" cy="448.7" r="2.6" fill="#000"/>
<circle cx="620.8" cy="432.5" r="2.6" fill="#000"/>
<circle cx="633.2" cy="449.6" r="2.6" fill="#000"/>
<circle cx="512.3" cy="440.2" r="2.2" fill="#fff" stroke="#000" stroke-width="1"/>
<circle cx="517.4" cy="444.6" r="2.2" fill="#fff" stroke="#000" stroke-width="1"/>
<circle cx="522.8" cy="434.2" r="2.2" fill="#fff" stroke="#000" stroke-width="1"/>
<circle cx="534.7" cy="438.8" r="2.2" fill="#fff" stroke="#000" stroke-width="1"/>
<circle cx="540.5" cy="447.1" r="2.2" fill="#fff" stroke="#000" stroke-width="1"/>
<circle cx="571.2" cy="448.7" r="2.2" fill="#fff" stroke="#000" stroke-width="1"/>
<circle cx="581.5" cy="449.2" r="2.2" fill="#fff" stroke="#000" stroke-width="1"/>
<circle cx="585.1" cy="448.7" r="2.2" fill="#fff" stroke="#000" stroke-width="1"/>
<circle cx="620.8" cy="426.0" r="2.2" fill="#fff" stroke="#000" stroke-width="1"/>
<circle cx="633.2" cy="449.6" r="2.2" fill="#fff" stroke="#000" stroke-width="1"/>
<rect x="57.0" y="560.0" width="170.5" height="155.0" fill="none" stroke="#333" stroke-width="1.15"/>
<line x1="146.0" y1="560.0" x2="146.0" y2="721.5" stroke="#333" stroke-width="1.15" />
<line x1="54.5" y1="715.0" x2="57.0" y2="715.0" stroke="#333" stroke-width="1.15" />
<text transform="translate(49.20 719.90) scale(1 1.1)" font-size="11.6" text-anchor="end" >0</text>
<line x1="54.5" y1="663.3" x2="57.0" y2="663.3" stroke="#333" stroke-width="1.15" />
<text transform="translate(49.20 668.23) scale(1 1.1)" font-size="11.6" text-anchor="end" >200</text>
<line x1="54.5" y1="611.7" x2="57.0" y2="611.7" stroke="#333" stroke-width="1.15" />
<text transform="translate(49.20 616.57) scale(1 1.1)" font-size="11.6" text-anchor="end" >400</text>
<line x1="54.5" y1="560.0" x2="57.0" y2="560.0" stroke="#333" stroke-width="1.15" />
<text transform="translate(49.20 564.90) scale(1 1.1)" font-size="11.6" text-anchor="end" >600</text>
<line x1="61.8" y1="715.0" x2="61.8" y2="717.0" stroke="#333" stroke-width="1.15" />
<line x1="68.2" y1="715.0" x2="68.2" y2="717.0" stroke="#333" stroke-width="1.15" />
<line x1="74.7" y1="715.0" x2="74.7" y2="717.0" stroke="#333" stroke-width="1.15" />
<line x1="81.2" y1="715.0" x2="81.2" y2="718.0" stroke="#333" stroke-width="1.15" />
<line x1="87.7" y1="715.0" x2="87.7" y2="717.0" stroke="#333" stroke-width="1.15" />
<line x1="94.2" y1="715.0" x2="94.2" y2="717.0" stroke="#333" stroke-width="1.15" />
<line x1="100.6" y1="715.0" x2="100.6" y2="717.0" stroke="#333" stroke-width="1.15" />
<line x1="107.1" y1="715.0" x2="107.1" y2="717.0" stroke="#333" stroke-width="1.15" />
<line x1="113.6" y1="715.0" x2="113.6" y2="718.0" stroke="#333" stroke-width="1.15" />
<line x1="120.1" y1="715.0" x2="120.1" y2="717.0" stroke="#333" stroke-width="1.15" />
<line x1="126.6" y1="715.0" x2="126.6" y2="717.0" stroke="#333" stroke-width="1.15" />
<line x1="133.0" y1="715.0" x2="133.0" y2="717.0" stroke="#333" stroke-width="1.15" />
<line x1="139.5" y1="715.0" x2="139.5" y2="717.0" stroke="#333" stroke-width="1.15" />
<line x1="152.5" y1="715.0" x2="152.5" y2="717.0" stroke="#333" stroke-width="1.15" />
<line x1="159.0" y1="715.0" x2="159.0" y2="717.0" stroke="#333" stroke-width="1.15" />
<line x1="165.4" y1="715.0" x2="165.4" y2="717.0" stroke="#333" stroke-width="1.15" />
<line x1="171.9" y1="715.0" x2="171.9" y2="717.0" stroke="#333" stroke-width="1.15" />
<line x1="178.4" y1="715.0" x2="178.4" y2="718.0" stroke="#333" stroke-width="1.15" />
<line x1="184.9" y1="715.0" x2="184.9" y2="717.0" stroke="#333" stroke-width="1.15" />
<line x1="191.4" y1="715.0" x2="191.4" y2="717.0" stroke="#333" stroke-width="1.15" />
<line x1="197.8" y1="715.0" x2="197.8" y2="717.0" stroke="#333" stroke-width="1.15" />
<line x1="204.3" y1="715.0" x2="204.3" y2="717.0" stroke="#333" stroke-width="1.15" />
<line x1="210.8" y1="715.0" x2="210.8" y2="718.0" stroke="#333" stroke-width="1.15" />
<line x1="217.3" y1="715.0" x2="217.3" y2="717.0" stroke="#333" stroke-width="1.15" />
<line x1="223.8" y1="715.0" x2="223.8" y2="717.0" stroke="#333" stroke-width="1.15" />
<text transform="translate(86.00 724.00) rotate(-90) scale(1 1.1)" font-size="11.6" text-anchor="end" >-400</text>
<text transform="translate(118.40 724.00) rotate(-90) scale(1 1.1)" font-size="11.6" text-anchor="end" >-200</text>
<text transform="translate(150.80 724.00) rotate(-90) scale(1 1.1)" font-size="11.6" text-anchor="end" >0</text>
<text transform="translate(183.20 724.00) rotate(-90) scale(1 1.1)" font-size="11.6" text-anchor="end" >200</text>
<text transform="translate(215.60 724.00) rotate(-90) scale(1 1.1)" font-size="11.6" text-anchor="end" >400</text>
<text transform="translate(109.00 770.20) scale(1 1.12)" font-size="13" text-anchor="start" >Time (days)</text>
<text transform="translate(75.50 577.90) scale(1 1.12)" font-size="13" text-anchor="start" >Rocks</text>
<text transform="translate(69.30 543.20) scale(1 1.12)" font-size="13" text-anchor="start" >Andean</text>
<text transform="translate(20.0 686.8) rotate(-90) scale(1 1.12)" font-size="13">Algae (μgC cm<tspan font-size="8.5" dx="0.6" dy="-6.3">-2</tspan><tspan dy="6.3">)</tspan></text>
<rect x="154.5" y="543.1" width="10.4" height="13.9" fill="#808080"/>
<rect x="167.0" y="543.1" width="10.4" height="13.9" fill="#808080"/>
<rect x="181.1" y="543.1" width="22.3" height="13.9" fill="#808080"/>
<line x1="68.5" y1="629.5" x2="68.5" y2="667.5" stroke="#2a2a2a" stroke-width="1" />
<line x1="65.1" y1="629.5" x2="71.9" y2="629.5" stroke="#222" stroke-width="1" />
<line x1="65.1" y1="667.5" x2="71.9" y2="667.5" stroke="#222" stroke-width="1" />
<line x1="68.5" y1="684.5" x2="68.5" y2="689.5" stroke="#2a2a2a" stroke-width="1" />
<line x1="65.1" y1="684.5" x2="71.9" y2="684.5" stroke="#222" stroke-width="1" />
<line x1="65.1" y1="689.5" x2="71.9" y2="689.5" stroke="#222" stroke-width="1" />
<line x1="75.5" y1="625.5" x2="75.5" y2="653.5" stroke="#2a2a2a" stroke-width="1" />
<line x1="72.1" y1="625.5" x2="78.9" y2="625.5" stroke="#222" stroke-width="1" />
<line x1="72.1" y1="653.5" x2="78.9" y2="653.5" stroke="#222" stroke-width="1" />
<line x1="75.5" y1="675.5" x2="75.5" y2="697.5" stroke="#2a2a2a" stroke-width="1" />
<line x1="72.1" y1="675.5" x2="78.9" y2="675.5" stroke="#222" stroke-width="1" />
<line x1="72.1" y1="697.5" x2="78.9" y2="697.5" stroke="#222" stroke-width="1" />
<line x1="81.5" y1="691.5" x2="81.5" y2="699.5" stroke="#2a2a2a" stroke-width="1" />
<line x1="78.1" y1="691.5" x2="84.9" y2="691.5" stroke="#222" stroke-width="1" />
<line x1="78.1" y1="699.5" x2="84.9" y2="699.5" stroke="#222" stroke-width="1" />
<line x1="88.5" y1="657.5" x2="88.5" y2="676.5" stroke="#2a2a2a" stroke-width="1" />
<line x1="85.1" y1="657.5" x2="91.9" y2="657.5" stroke="#222" stroke-width="1" />
<line x1="85.1" y1="676.5" x2="91.9" y2="676.5" stroke="#222" stroke-width="1" />
<line x1="88.5" y1="695.5" x2="88.5" y2="701.5" stroke="#2a2a2a" stroke-width="1" />
<line x1="85.1" y1="695.5" x2="91.9" y2="695.5" stroke="#222" stroke-width="1" />
<line x1="85.1" y1="701.5" x2="91.9" y2="701.5" stroke="#222" stroke-width="1" />
<line x1="116.5" y1="692.5" x2="116.5" y2="711.5" stroke="#2a2a2a" stroke-width="1" />
<line x1="113.1" y1="692.5" x2="119.9" y2="692.5" stroke="#222" stroke-width="1" />
<line x1="113.1" y1="711.5" x2="119.9" y2="711.5" stroke="#222" stroke-width="1" />
<line x1="133.5" y1="672.5" x2="133.5" y2="681.5" stroke="#2a2a2a" stroke-width="1" />
<line x1="130.1" y1="672.5" x2="136.9" y2="672.5" stroke="#222" stroke-width="1" />
<line x1="130.1" y1="681.5" x2="136.9" y2="681.5" stroke="#222" stroke-width="1" />
<line x1="133.5" y1="688.5" x2="133.5" y2="706.5" stroke="#2a2a2a" stroke-width="1" />
<line x1="130.1" y1="688.5" x2="136.9" y2="688.5" stroke="#222" stroke-width="1" />
<line x1="130.1" y1="706.5" x2="136.9" y2="706.5" stroke="#222" stroke-width="1" />
<line x1="142.5" y1="675.5" x2="142.5" y2="693.5" stroke="#2a2a2a" stroke-width="1" />
<line x1="139.1" y1="675.5" x2="145.9" y2="675.5" stroke="#222" stroke-width="1" />
<line x1="139.1" y1="693.5" x2="145.9" y2="693.5" stroke="#222" stroke-width="1" />
<line x1="150.5" y1="662.5" x2="150.5" y2="690.5" stroke="#2a2a2a" stroke-width="1" />
<line x1="147.1" y1="662.5" x2="153.9" y2="662.5" stroke="#222" stroke-width="1" />
<line x1="147.1" y1="690.5" x2="153.9" y2="690.5" stroke="#222" stroke-width="1" />
<line x1="156.5" y1="653.5" x2="156.5" y2="703.5" stroke="#2a2a2a" stroke-width="1" />
<line x1="153.1" y1="653.5" x2="159.9" y2="653.5" stroke="#222" stroke-width="1" />
<line x1="153.1" y1="703.5" x2="159.9" y2="703.5" stroke="#222" stroke-width="1" />
<line x1="169.5" y1="660.5" x2="169.5" y2="665.5" stroke="#2a2a2a" stroke-width="1" />
<line x1="166.1" y1="660.5" x2="172.9" y2="660.5" stroke="#222" stroke-width="1" />
<line x1="166.1" y1="665.5" x2="172.9" y2="665.5" stroke="#222" stroke-width="1" />
<line x1="169.5" y1="682.5" x2="169.5" y2="690.5" stroke="#2a2a2a" stroke-width="1" />
<line x1="166.1" y1="682.5" x2="172.9" y2="682.5" stroke="#222" stroke-width="1" />
<line x1="166.1" y1="690.5" x2="172.9" y2="690.5" stroke="#222" stroke-width="1" />
<line x1="173.5" y1="681.5" x2="173.5" y2="686.5" stroke="#2a2a2a" stroke-width="1" />
<line x1="170.1" y1="681.5" x2="176.9" y2="681.5" stroke="#222" stroke-width="1" />
<line x1="170.1" y1="686.5" x2="176.9" y2="686.5" stroke="#222" stroke-width="1" />
<line x1="185.5" y1="669.5" x2="185.5" y2="693.5" stroke="#2a2a2a" stroke-width="1" />
<line x1="182.1" y1="669.5" x2="188.9" y2="669.5" stroke="#222" stroke-width="1" />
<line x1="182.1" y1="693.5" x2="188.9" y2="693.5" stroke="#222" stroke-width="1" />
<line x1="185.5" y1="645.5" x2="185.5" y2="654.5" stroke="#2a2a2a" stroke-width="1" />
<line x1="182.1" y1="645.5" x2="188.9" y2="645.5" stroke="#222" stroke-width="1" />
<line x1="182.1" y1="654.5" x2="188.9" y2="654.5" stroke="#222" stroke-width="1" />
<line x1="200.5" y1="648.5" x2="200.5" y2="677.5" stroke="#2a2a2a" stroke-width="1" />
<line x1="197.1" y1="648.5" x2="203.9" y2="648.5" stroke="#222" stroke-width="1" />
<line x1="197.1" y1="677.5" x2="203.9" y2="677.5" stroke="#222" stroke-width="1" />
<line x1="200.5" y1="687.5" x2="200.5" y2="692.5" stroke="#2a2a2a" stroke-width="1" />
<line x1="197.1" y1="687.5" x2="203.9" y2="687.5" stroke="#222" stroke-width="1" />
<line x1="197.1" y1="692.5" x2="203.9" y2="692.5" stroke="#222" stroke-width="1" />
<line x1="78.1" y1="682.5" x2="84.9" y2="682.5" stroke="#222" stroke-width="1" />
<line x1="153.1" y1="671.5" x2="159.9" y2="671.5" stroke="#222" stroke-width="1" />
<line x1="153.1" y1="678.5" x2="159.9" y2="678.5" stroke="#222" stroke-width="1" />
<polyline fill="none" stroke="#111" stroke-width="1.4" stroke-dasharray="1.4 2.4" points="68.4,686.4 75.8,685.3 81.3,695.0 88.3,697.8 116.3,695.0 133.0,696.8 142.9,686.3 147.2,686.3 150.1,674.5 156.2,665.9 169.2,662.8 173.7,683.1 185.2,649.4 200.7,662.3"/>
<polyline fill="none" stroke="#000" stroke-width="1.5" points="68.4,647.8 75.8,639.2 81.3,686.4 88.3,666.5 116.3,703.3 133.0,676.9 142.9,682.0 147.2,682.0 150.1,678.6 156.2,686.7 169.2,686.3 173.7,696.8 185.2,680.3 200.7,690.0"/>
<circle cx="68.4" cy="647.8" r="2.6" fill="#000"/>
<circle cx="75.8" cy="639.2" r="2.6" fill="#000"/>
<circle cx="81.3" cy="686.4" r="2.6" fill="#000"/>
<circle cx="88.3" cy="666.5" r="2.6" fill="#000"/>
<circle cx="116.3" cy="703.3" r="2.6" fill="#000"/>
<circle cx="133.0" cy="676.9" r="2.6" fill="#000"/>
<circle cx="142.9" cy="682.0" r="2.6" fill="#000"/>
<circle cx="147.2" cy="682.0" r="2.6" fill="#000"/>
<circle cx="150.1" cy="678.6" r="2.6" fill="#000"/>
<circle cx="156.2" cy="686.7" r="2.6" fill="#000"/>
<circle cx="169.2" cy="686.3" r="2.6" fill="#000"/>
<circle cx="173.7" cy="696.8" r="2.6" fill="#000"/>
<circle cx="185.2" cy="680.3" r="2.6" fill="#000"/>
<circle cx="200.7" cy="690.0" r="2.6" fill="#000"/>
<circle cx="68.4" cy="686.4" r="2.2" fill="#fff" stroke="#000" stroke-width="1"/>
<circle cx="75.8" cy="685.3" r="2.2" fill="#fff" stroke="#000" stroke-width="1"/>
<circle cx="81.3" cy="695.0" r="2.2" fill="#fff" stroke="#000" stroke-width="1"/>
<circle cx="88.3" cy="697.8" r="2.2" fill="#fff" stroke="#000" stroke-width="1"/>
<circle cx="116.3" cy="695.0" r="2.2" fill="#fff" stroke="#000" stroke-width="1"/>
<circle cx="133.0" cy="696.8" r="2.2" fill="#fff" stroke="#000" stroke-width="1"/>
<circle cx="142.9" cy="686.3" r="2.2" fill="#fff" stroke="#000" stroke-width="1"/>
<circle cx="147.2" cy="686.3" r="2.2" fill="#fff" stroke="#000" stroke-width="1"/>
<circle cx="150.1" cy="674.5" r="2.2" fill="#fff" stroke="#000" stroke-width="1"/>
<circle cx="156.2" cy="665.9" r="2.2" fill="#fff" stroke="#000" stroke-width="1"/>
<circle cx="169.2" cy="662.8" r="2.2" fill="#fff" stroke="#000" stroke-width="1"/>
<circle cx="173.7" cy="683.1" r="2.2" fill="#fff" stroke="#000" stroke-width="1"/>
<circle cx="185.2" cy="649.4" r="2.2" fill="#fff" stroke="#000" stroke-width="1"/>
<circle cx="200.7" cy="662.3" r="2.2" fill="#fff" stroke="#000" stroke-width="1"/>
<rect x="468.5" y="32.5" width="121" height="46" fill="none" stroke="#333" stroke-width="1.1"/>
<line x1="475.9" y1="47.0" x2="506.0" y2="47.0" stroke="#000" stroke-width="1.5" />
<circle cx="490.2" cy="47.0" r="2.6" fill="#000"/>
<line x1="475.9" y1="63.3" x2="506.0" y2="63.3" stroke="#111" stroke-width="1.4" stroke-dasharray="1.4 2.4"/>
<circle cx="490.2" cy="63.3" r="2.1" fill="#fff" stroke="#000" stroke-width="1"/>
<text transform="translate(512.90 52.80) scale(1 1.12)" font-size="13" text-anchor="start" >CONTROL</text>
<text transform="translate(512.90 68.50) scale(1 1.12)" font-size="13" text-anchor="start" >ENRICHED</text>
</svg></body></html>
